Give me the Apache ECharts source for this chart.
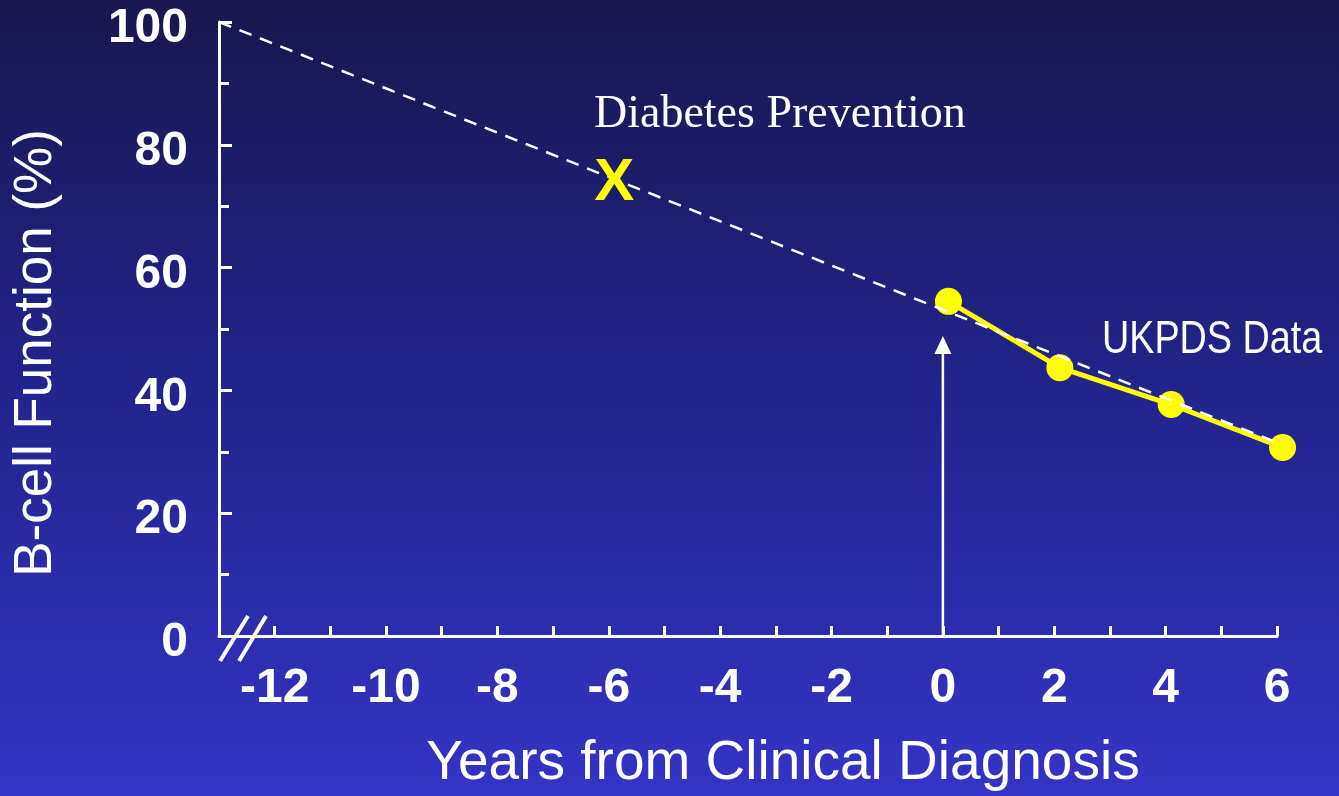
<!DOCTYPE html>
<html>
<head>
<meta charset="utf-8">
<script src="https://cdn.jsdelivr.net/npm/echarts@6/dist/echarts.min.js"></script>
<style>
  html, body { margin: 0; padding: 0; width: 1339px; height: 796px; overflow: hidden; }
  #chart { width: 1339px; height: 796px; }
</style>
</head>
<body>
<div id="chart"></div>
<script>
// Projected decline of beta-cell function, extrapolated back from diagnosis
const trendYears = [-13, 6];
const trendFunction = [100, 31.5];

// UKPDS measurements after clinical diagnosis
const ukpdsYears = [0.1, 2.1, 4.1, 6.1];
const ukpdsFunction = [54.5, 43.7, 37.7, 30.7];

// Point where prevention would intervene
const preventionYears = [-5.9];
const preventionFunction = [73.7];

// Arrow marking the time of clinical diagnosis
const diagnosisYears = [0, 0];
const diagnosisFunction = [0, 47.4];

const xTickLabels = ['-12', '-10', '-8', '-6', '-4', '-2', '0', '2', '4', '6'];
const yTickLabels = ['0', '20', '40', '60', '80', '100'];

const sansFont = '"Liberation Sans", Arial, Helvetica, sans-serif';
const serifFont = '"Liberation Serif", "Times New Roman", serif';

const zip = (xs, ys) => xs.map((x, i) => [x, ys[i]]);

const chart = echarts.init(document.getElementById('chart'), null, { renderer: 'canvas' });

const option = {
  animation: false,
  backgroundColor: {
    type: 'linear', x: 0, y: 0, x2: 0, y2: 1,
    colorStops: [
      { offset: 0, color: '#18174f' },
      { offset: 0.5, color: '#23248e' },
      { offset: 1, color: '#3434c6' }
    ]
  },
  grid: { left: 219, right: 62, top: 22, bottom: 156, containLabel: false },
  xAxis: {
    type: 'value',
    min: -13, max: 6, interval: 1,
    splitLine: { show: false },
    axisLine: { show: true, onZero: false, lineStyle: { color: '#ffffff', width: 3 } },
    axisTick: { show: true, inside: true, length: 10, lineStyle: { color: '#ffffff', width: 3 } },
    axisLabel: {
      color: '#ffffff', fontFamily: sansFont, fontWeight: 'bold', fontSize: 48,
      margin: 29,
      formatter: v => xTickLabels.includes(String(v)) ? String(v) : ''
    },
    name: 'Years from Clinical Diagnosis',
    nameLocation: 'middle',
    nameGap: 100,
    nameTextStyle: { color: '#ffffff', fontFamily: sansFont, fontSize: 55, padding: [0, 0, 0, 70] }
  },
  yAxis: {
    type: 'value',
    min: 0, max: 100, interval: 20,
    splitLine: { show: false },
    axisLine: { show: true, onZero: false, lineStyle: { color: '#ffffff', width: 3 } },
    axisTick: { show: true, inside: true, length: 13, lineStyle: { color: '#ffffff', width: 3 } },
    minorTick: { show: true, splitNumber: 2, length: 10, lineStyle: { color: '#ffffff', width: 3 } },
    axisLabel: {
      color: '#ffffff', fontFamily: sansFont, fontWeight: 'bold', fontSize: 48,
      margin: 31, verticalAlign: 'top', lineHeight: 14,
      formatter: v => yTickLabels.includes(String(v)) ? String(v) : ''
    },
    name: 'B-cell Function (%)',
    nameLocation: 'middle',
    nameGap: 156,
    nameTextStyle: { color: '#ffffff', fontFamily: sansFont, fontSize: 53, padding: [0, 48, 0, 0] }
  },
  series: [
    {
      name: 'Diagnosis',
      type: 'line',
      z: 3,
      silent: true,
      data: [
        { value: [diagnosisYears[0], diagnosisFunction[0]], symbol: 'none' },
        { value: [diagnosisYears[1], diagnosisFunction[1]], symbol: 'triangle', symbolSize: [17, 18] }
      ],
      lineStyle: { color: '#ffffff', width: 2.5 },
      itemStyle: { color: '#ffffff' }
    },
    {
      name: 'UKPDS Data',
      type: 'line',
      z: 4,
      clip: false,
      data: zip(ukpdsYears, ukpdsFunction),
      symbol: 'circle',
      symbolSize: 27,
      lineStyle: { color: '#ffff00', width: 5 },
      itemStyle: { color: '#ffff00' }
    },
    {
      name: 'Trend',
      type: 'line',
      z: 5,
      clip: false,
      data: zip(trendYears, trendFunction),
      symbol: 'none',
      lineStyle: { color: '#ffffff', width: 2.5, type: [13, 9] }
    },
    {
      name: 'Diabetes Prevention',
      type: 'scatter',
      z: 6,
      data: zip(preventionYears, preventionFunction),
      symbolSize: 1,
      itemStyle: { color: 'rgba(0,0,0,0)', opacity: 1 },
      label: {
        show: true, position: 'inside', formatter: 'X',
        color: '#ffff00', fontFamily: sansFont, fontWeight: 'bold', fontSize: 60
      }
    }
  ]
};

chart.setOption(option);

// Annotation texts and the axis break mark
const origin = chart.convertToPixel({ xAxisIndex: 0, yAxisIndex: 0 }, [-13, 0]);
chart.setOption({
  graphic: [
    {
      type: 'text', left: 594, top: 92,
      style: { text: 'Diabetes Prevention', fill: '#ffffff', font: '46px ' + serifFont }
    },
    {
      type: 'text', x: 1102, y: 317, scaleX: 0.82,
      style: { text: 'UKPDS Data', fill: '#ffffff', font: '46px ' + sansFont }
    },
    {
      type: 'line', z: 10,
      shape: { x1: origin[0] + 1, y1: origin[1] + 25, x2: origin[0] + 29, y2: origin[1] - 20 },
      style: { stroke: '#ffffff', lineWidth: 4 }
    },
    {
      type: 'line', z: 10,
      shape: { x1: origin[0] + 20, y1: origin[1] + 25, x2: origin[0] + 47, y2: origin[1] - 20 },
      style: { stroke: '#ffffff', lineWidth: 4 }
    }
  ]
});
</script>
</body>
</html>
